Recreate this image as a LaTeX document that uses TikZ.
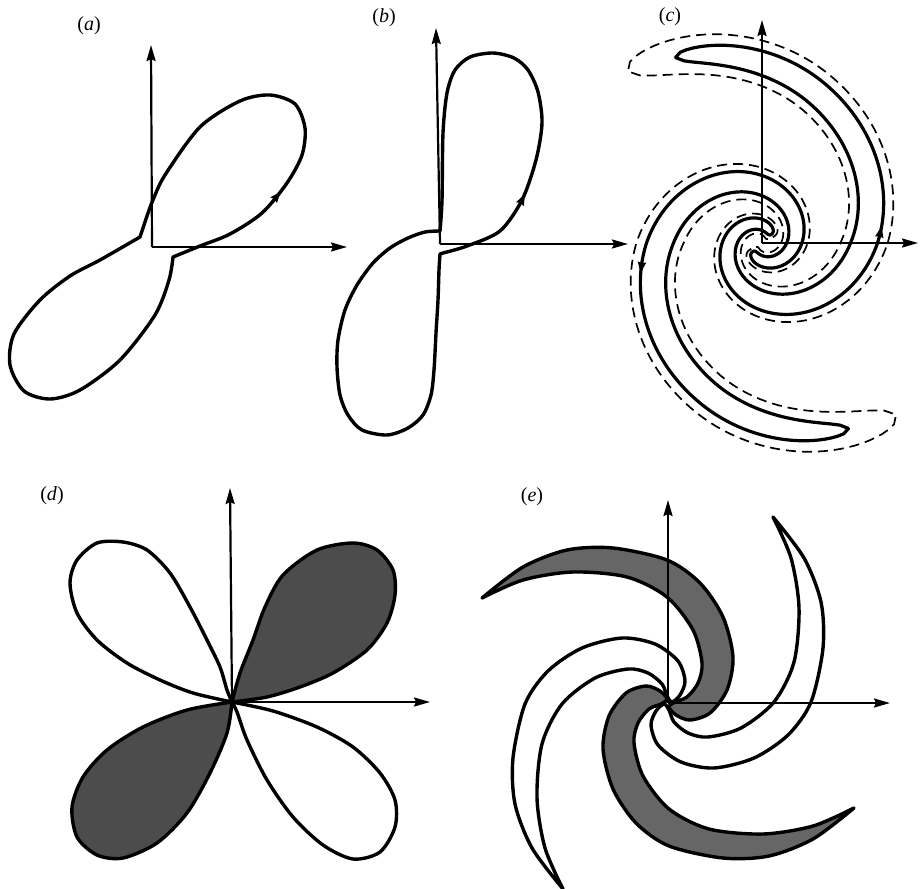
\documentclass[tikz,border=0pt]{standalone}
\usepackage{fontspec}
\setmainfont{Liberation Serif}
\usetikzlibrary{arrows.meta}
\begin{document}
\begin{tikzpicture}[x=0.5pt,y=-0.5pt,
  axarrow/.style={line width=1.1pt,-{Stealth[length=8pt,width=4.5pt,inset=1pt]}},
  crv/.style={line width=1.7pt,line join=round},
  crvc/.style={line width=1.6pt,line join=round},
  dsh/.style={line width=0.85pt,dash pattern=on 5pt off 3pt},
  flowtip/.style={line width=1.2pt,-{Stealth[length=5.5pt,width=4pt,inset=0.5pt]}},
  lab/.style={font=\fontsize{10}{11}\selectfont},
  darkfill/.style={fill=black!70},
  declare function={
    sprc(\t)=102*exp(0.0064*\t)-0.004*max(0,\t-70)^2;
    sptp(\u,\l)=sqrt(max(0,1-exp(-min(\u/\l,9))));
    spbase(\t)=13.5*sqrt(min(1,sprc(\t)/102));
    spws(\t)=spbase(\t)*sptp(115-\t,14)*sptp(\t+318,14);
    spwd(\t)=1.75*spbase(\t)*sptp(128-\t,14)*sptp(\t+332,10);
  }]
\useasboundingbox (0,0) rectangle (920,888);

% ---------------- (a)
\node[lab] (la) at (89,26) {(\textit{a})};
\coordinate (ao) at (152,247);
\coordinate (ay) at (151,45);
\coordinate (ax) at (347,247);
\draw[axarrow] (ao) -- (ay);
\draw[axarrow] (ao) -- (ax);
\draw[crv] plot[smooth] coordinates {(140,237) (147,216) (153,200) (165,175) (200,127) (240,101) (270,95) (295,104) (305,128) (302,155) (287,183) (262,213) (230,234) (200,246) (173,257)}
  -- plot[smooth] coordinates {(173,257) (169,280) (155,315) (120,360) (80,390) (50,399) (24,391) (10,365) (14,334) (40,300) (70,276) (100,260) (140,237)} -- cycle;
\draw[flowtip] (272,202) -- (281,191.5);

% ---------------- (b)
\node[lab] (lb) at (384,18) {(\textit{b})};
\coordinate (bo) at (440,244);
\coordinate (by) at (436,28);
\coordinate (bx) at (628,244);
\draw[axarrow] (bo) -- (by);
\draw[axarrow] (bo) -- (bx);
\draw[crv] plot[smooth] coordinates {(440,231) (425,232) (408,238) (390,248) (373,263) (357,285) (345,310) (338,340) (337,367) (340,395) (348,415) (362,430) (387,435) (408,428) (423,415) (431,395) (434,370) (436,333) (438,300) (439,270) (440,254)}
  -- (443,253) -- plot[smooth] coordinates {(443,253) (467,246) (500,231) (522,200) (536,160) (542,123) (538,92) (528,70) (514,58) (493,53) (470,57) (455,70) (447,93) (443,133) (442,200) (440,231)} -- cycle;
\draw[flowtip] (519,206) -- (525,194);

% ---------------- (c)
\node[lab] (lc) at (670,17) {(\textit{c})};
\coordinate (co) at (762,243);
\coordinate (cy) at (762,20);
\coordinate (cx) at (918,243);
\begin{scope}[shift={(762,243)},yscale=-1]
  \foreach \r in {0,180}{
    \draw[crvc,rotate=\r] plot[domain=-318:115,samples=240] ({(sprc(\x)+spws(\x))*cos(\x)},{(sprc(\x)+spws(\x))*sin(\x)})
      -- plot[domain=115:-318,samples=240] ({(sprc(\x)-spws(\x))*cos(\x)},{(sprc(\x)-spws(\x))*sin(\x)}) -- cycle;
    \draw[dsh,rotate=\r] plot[domain=-332:128,samples=240] ({(sprc(\x)+spwd(\x))*cos(\x)},{(sprc(\x)+spwd(\x))*sin(\x)})
      -- plot[domain=128:-332,samples=240] ({(sprc(\x)-spwd(\x))*cos(\x)},{(sprc(\x)-spwd(\x))*sin(\x)}) -- cycle;
  }
\end{scope}
\draw[axarrow] (co) -- (cy);
\draw[axarrow] (co) -- (cx);
\draw[flowtip] (879.3,236.9) -- (881.6,226.3);
\draw[flowtip] (642,261.9) -- (640.5,273.2);

% ---------------- (d)
\node[lab] (ld) at (52,496) {(\textit{d})};
\coordinate (do) at (232,702);
\coordinate (dy) at (230,488);
\coordinate (dx) at (430,702);
\draw[crv,darkfill] plot[smooth] coordinates {(232,702) (240,673) (253,640) (265,607) (283,575) (317,550) (353,543) (377,550) (393,570) (395,595) (387,623) (367,650) (333,673) (300,687) (267,697) (232,702)} -- cycle;
\draw[crv] plot[smooth] coordinates {(232,702) (227,690) (220,667) (207,640) (190,607) (170,573) (147,550) (123,542) (97,543) (77,560) (70,583) (77,613) (97,640) (127,663) (160,680) (193,693) (232,702)} -- cycle;
\draw[crv,darkfill] plot[smooth] coordinates {(232,702) (187,710) (143,727) (107,750) (83,777) (72,807) (77,837) (97,855) (123,858) (157,843) (187,813) (210,773) (227,733) (232,702)} -- cycle;
\draw[crv] plot[smooth] coordinates {(232,702) (237,712) (247,740) (267,780) (293,817) (323,845) (353,859) (380,852) (395,827) (395,800) (380,773) (353,747) (317,727) (273,711) (232,702)} -- cycle;
\draw[axarrow] (do) -- (dy);
\draw[axarrow] (do) -- (dx);

% ---------------- (e)
\node[lab] (le) at (532,497) {(\textit{e})};
\coordinate (eo) at (668,703);
\coordinate (ey) at (668,500);
\coordinate (ex) at (890,703);
\begin{scope}[shift={(668,703)},yscale=-1]
  \foreach \a/\c in {90/none,270/none,0/black!60,180/black!60}{
    \draw[crv,rotate=\a,fill=\c] plot[smooth] coordinates {(-186,105) (-145,136) (-101,153) (-55,155) (-1,143) (32,120) (55,86) (65,46) (59,13) (42,-10) (22,-17) (8,-12) (1,-4) (7,1) (19,6) (30,20) (34,40) (25,73) (-1,106) (-41,126) (-95,131) (-145,123) (-186,105)} -- cycle;
  }
\end{scope}
\draw[axarrow] (eo) -- (ey);
\draw[axarrow] (eo) -- (ex);
\end{tikzpicture}
\end{document}
